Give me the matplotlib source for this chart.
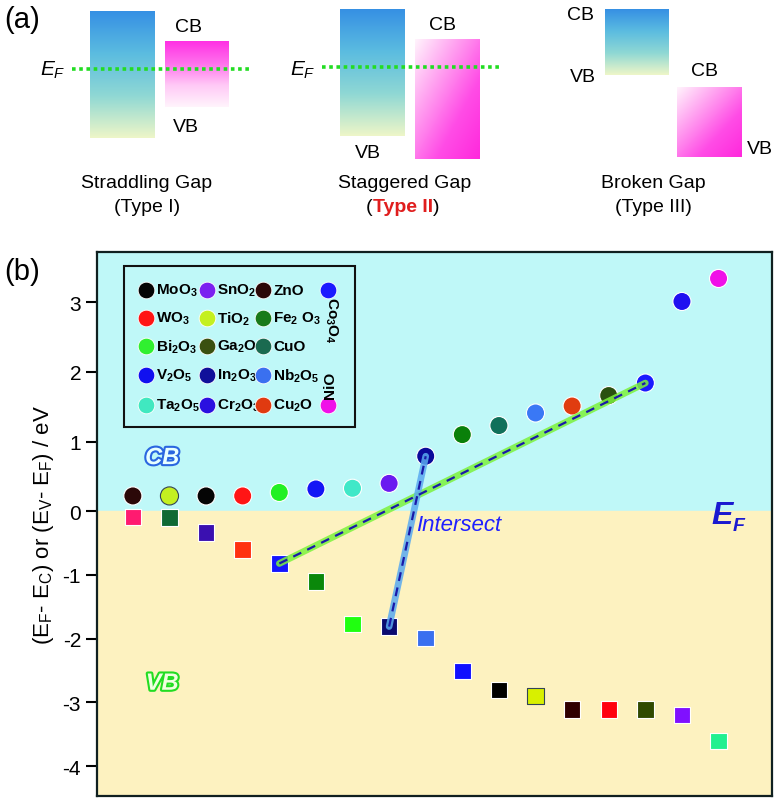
"""Band alignment schematic (a) and CB/VB positions of metal oxides (b)."""

import matplotlib

matplotlib.use("Agg")
import matplotlib.pyplot as plt
import matplotlib.patheffects as pe
import numpy as np
from matplotlib.colors import LinearSegmentedColormap
from matplotlib.patches import Rectangle

plt.rcParams["font.family"] = ["Liberation Sans", "DejaVu Sans"]
plt.rcParams["mathtext.fontset"] = "custom"
plt.rcParams["mathtext.rm"] = "Liberation Sans"
plt.rcParams["mathtext.it"] = "Liberation Sans:italic"
plt.rcParams["mathtext.bf"] = "Liberation Sans:bold"
plt.rcParams["axes.unicode_minus"] = False

# ---- data for panel (b) ----
# conduction band side (circles), left to right
cb_names = ["ZnO", "TiO2", "MoO3", "WO3", "Bi2O3", "V2O5", "Ta2O5", "SnO2", "In2O3",
            "Fe2O3", "CuO", "Nb2O5", "Cu2O", "Ga2O3", "Co3O4", "Cr2O3", "NiO"]
cb_values = [0.22, 0.22, 0.22, 0.22, 0.27, 0.32, 0.33, 0.40, 0.79,
             1.10, 1.23, 1.41, 1.51, 1.66, 1.84, 3.01, 3.34]
cb_colors = ["#2b0808", "#c4f020", "#050505", "#ff1515", "#22f022", "#1515f5", "#40e8c8",
             "#6a1af0", "#0a0a9a", "#0a800a", "#10705a", "#3a78f5", "#e03c10", "#2a5010",
             "#1a1aff", "#2010f0", "#f010e8"]

# valence band side (squares), left to right
vb_names = ["NiO", "CuO", "Cr2O3", "Cu2O", "Co3O4", "Fe2O3", "Bi2O3", "In2O3", "Nb2O5",
            "V2O5", "MoO3", "TiO2", "ZnO", "WO3", "Ga2O3", "SnO2", "Ta2O5"]
vb_values = [-0.09, -0.10, -0.33, -0.60, -0.82, -1.10, -1.77, -1.81, -1.99,
             -2.51, -2.81, -2.90, -3.11, -3.11, -3.11, -3.20, -3.61]
vb_colors = ["#ff1a70", "#0f6a35", "#3a10b0", "#ff3010", "#1515ff", "#0a880a", "#20ff10",
             "#0a0a70", "#3a70f0", "#1010ff", "#000000", "#d8f000", "#300000", "#ff0010",
             "#304a00", "#8010ff", "#20f090"]

# legend rows (label, colour)
legend_rows = [
    [(r"MoO$_\mathbf{3}$", "#050505"), (r"SnO$_\mathbf{2}$", "#7a22f0"), ("ZnO", "#2b0808")],
    [(r"WO$_\mathbf{3}$", "#ff1515"), (r"TiO$_\mathbf{2}$", "#c4f020"), (r"Fe$_\mathbf{2}$ O$_\mathbf{3}$", "#1a7a1a")],
    [(r"Bi$_\mathbf{2}$O$_\mathbf{3}$", "#30f030"), (r"Ga$_\mathbf{2}$O$_\mathbf{3}$", "#3a5010"), ("CuO", "#1a6a50")],
    [(r"V$_\mathbf{2}$O$_\mathbf{5}$", "#1010f0"), (r"In$_\mathbf{2}$O$_\mathbf{3}$", "#10109a"), (r"Nb$_\mathbf{2}$O$_\mathbf{5}$", "#3a70f0")],
    [(r"Ta$_\mathbf{2}$O$_\mathbf{5}$", "#40e8c0"), (r"Cr$_\mathbf{2}$O$_\mathbf{3}$", "#2a10e0"), (r"Cu$_\mathbf{2}$O", "#e03a10")],
]
paired = ["Co3O4", "In2O3"]

W, H = 776, 804
fig = plt.figure(figsize=(W / 100, H / 100), dpi=100)

# ================= panel (a) =================
axa = fig.add_axes([0, 1 - 225 / H, 1, 225 / H])
axa.set_xlim(0, W)
axa.set_ylim(225, 0)
axa.axis("off")

blue_cm = LinearSegmentedColormap.from_list("bl", ["#3690e4", "#5bbce0", "#8fd8d4", "#eef6c8"])
pink_v = LinearSegmentedColormap.from_list("pv", ["#ff30e4", "#ff70ec", "#ffc8f6", "#fff4fc"])
pink_d = LinearSegmentedColormap.from_list("pd", ["#fff4fc", "#ffa0f0", "#ff4ce6", "#ff28dc"])
vgrad = np.linspace(0, 1, 256)[:, None]
gi, gj = np.mgrid[0:128, 0:128]
dgrad = (gi + gj) / 254.0


def box(x0, x1, y0, y1, arr, cmap):
    axa.imshow(arr, cmap=cmap, extent=(x0, x1, y1, y0), aspect="auto", zorder=1)


box(90, 155, 12, 139, vgrad, blue_cm)
box(165, 229, 42, 108, vgrad, pink_v)
box(340, 405, 10, 137, vgrad, blue_cm)
box(415, 480, 40, 160, dgrad, pink_d)
box(605, 669, 10, 76, vgrad, blue_cm)
box(677, 742, 88, 158, dgrad, pink_d)
axa.set_xlim(0, W)
axa.set_ylim(225, 0)

for x0, x1, y in [(72, 250, 70), (322, 502, 68)]:
    axa.plot([x0, x1], [y, y], color="#22dd22", lw=2.6, linestyle=(0, (1, 1)), zorder=3)

fs = 14
axa.text(4, 20, "(a)", fontsize=21, va="center", ha="left")
for x, y in [(53, 70), (303, 70)]:
    axa.text(x, y, r"$E_F$", fontsize=15, ha="center", va="center")
for x, y, s in [(188, 28, "CB"), (186, 128, "VB"), (443, 25, "CB"), (368, 153, "VB"),
                (580, 15, "CB"), (583, 77, "VB"), (705, 72, "CB"), (760, 150, "VB")]:
    axa.text(x, y, s, fontsize=fs, ha="center", va="center")
for x, s in [(147, "Straddling Gap"), (405, "Staggered Gap"), (653, "Broken Gap")]:
    axa.text(x, 183, s, fontsize=fs, ha="center", va="center")
axa.text(147, 208, "(Type I)", fontsize=fs, ha="center", va="center")
axa.text(653, 208, "(Type III)", fontsize=fs, ha="center", va="center")
t1 = axa.text(366, 208, "(", fontsize=fs, ha="left", va="center")
t2 = axa.annotate("Type II", xy=(1, 0), xycoords=t1, fontsize=fs, ha="left", va="bottom",
                  color="#e01e1e", fontweight="bold")
axa.annotate(")", xy=(1, 0), xycoords=t2, fontsize=fs, ha="left", va="bottom")

# ================= panel (b) =================
K = 69.7 / 63.7  # the positive half of the original axis is slightly stretched


def fwd(y):
    y = np.asarray(y, dtype=float)
    return np.where(y > 0, y * K, y)


def inv(y):
    y = np.asarray(y, dtype=float)
    return np.where(y > 0, y / K, y)


ax = fig.add_axes([97 / W, 1 - 797 / H, 675 / W, 544 / H])
ax.set_yscale("function", functions=(fwd, inv))
ax.set_xlim(-0.98, 17.46)
ax.set_ylim(-4.47, 3.72)
ax.axhspan(0, 10, color="#bff8f8", zorder=0)
ax.axhspan(-10, 0, color="#fdf2c0", zorder=0)

x = np.arange(len(cb_values))
cb_edges = ["#334455" if n == "TiO2" else "white" for n in cb_names]
vb_edges = ["#334455" if n == "TiO2" else "white" for n in vb_names]
ax.scatter(x, cb_values, s=170, c=cb_colors, edgecolors=cb_edges, linewidths=0.8, zorder=3)
ax.scatter(x, vb_values, s=140, marker="s", c=vb_colors, edgecolors=vb_edges,
           linewidths=0.8, zorder=3)

glow = {"Co3O4": "#7cf23c", "In2O3": "#5aaaf0"}
for name in paired:
    i, j = vb_names.index(name), cb_names.index(name)
    xs, ys = [x[i], x[j]], [vb_values[i], cb_values[j]]
    ax.plot(xs, ys, color=glow[name], lw=4.8, alpha=0.85, solid_capstyle="round", zorder=4)
    ax.plot(xs, ys, color="#1a1aa8", lw=1.6, dashes=(4, 3), zorder=5)

ax.set_yticks(range(-4, 4))
ax.set_xticks([])
ax.tick_params(axis="y", labelsize=15, length=8, width=1.5, direction="out")
for sp in ax.spines.values():
    sp.set_linewidth(1.6)
    sp.set_color("#102020")
ax.set_ylabel(r"(E$_\mathrm{F}$- E$_\mathrm{C}$) or (E$_\mathrm{V}$- E$_\mathrm{F}$) / eV",
              fontsize=16, labelpad=5)

ax.text(7.75, -0.2, "Intersect", fontsize=16, style="italic", color="#2020ff",
        ha="left", va="center", zorder=6)
ax.text(16.1, -0.06, "E", fontsize=23, style="italic", fontweight="bold", color="#1a1ad0",
        ha="center", va="center")
ax.text(16.55, -0.22, "F", fontsize=14, style="italic", fontweight="bold", color="#1a1ad0",
        ha="center", va="center")
ax.text(0.8, 0.77, "CB", fontsize=17, style="italic", fontweight="bold", color="#e8ffff",
        ha="center", va="center",
        path_effects=[pe.Stroke(linewidth=3, foreground="#2a66e0"), pe.Normal()])
ax.text(0.8, -2.7, "VB", fontsize=17, style="italic", fontweight="bold", color="#f0ffe0",
        ha="center", va="center",
        path_effects=[pe.Stroke(linewidth=3, foreground="#22dd22"), pe.Normal()])


# legend box, positioned in original pixel coordinates
def px(xp, yp):
    return (xp - 97) / 675, (797 - yp) / 544


lx0, ly0 = px(124, 428)
lx1, ly1 = px(355, 267)
ax.add_patch(Rectangle((lx0, ly0), lx1 - lx0, ly1 - ly0, transform=ax.transAxes,
                       facecolor="#bff8f8", edgecolor="#111111", lw=1.5, zorder=6))
row_y = [291, 319, 347, 376, 406]
col_x = [146, 207, 263]
for ry, row in zip(row_y, legend_rows):
    for cx, (lab, col) in zip(col_x, row):
        mx, my = px(cx, ry)
        ax.plot(mx, my, "o", ms=12, color=col, mec="white", mew=0.6, transform=ax.transAxes,
                zorder=7, clip_on=False)
        tx, _ = px(cx + 10, ry)
        ax.text(tx, my, lab, transform=ax.transAxes, fontsize=11, fontweight="bold",
                ha="left", va="center", zorder=7)
for ry, col in [(291, "#1a1aff"), (406, "#f010e8")]:
    mx, my = px(328, ry)
    ax.plot(mx, my, "o", ms=12, color=col, mec="white", mew=0.6, transform=ax.transAxes,
            zorder=7)
cx, cy = px(331, 320)
ax.text(cx, cy, r"Co$_\mathbf{3}$O$_\mathbf{4}$", rotation=-90, transform=ax.transAxes,
        fontsize=11, fontweight="bold", ha="center", va="center", zorder=7)
cx, cy = px(330, 385)
ax.text(cx, cy, "NiO", rotation=90, transform=ax.transAxes, fontsize=11,
        fontweight="bold", ha="center", va="center", zorder=7)

fig.text(4 / W, 1 - 272 / H, "(b)", fontsize=21, ha="left", va="center")

fig.savefig("out.png", dpi=100)
